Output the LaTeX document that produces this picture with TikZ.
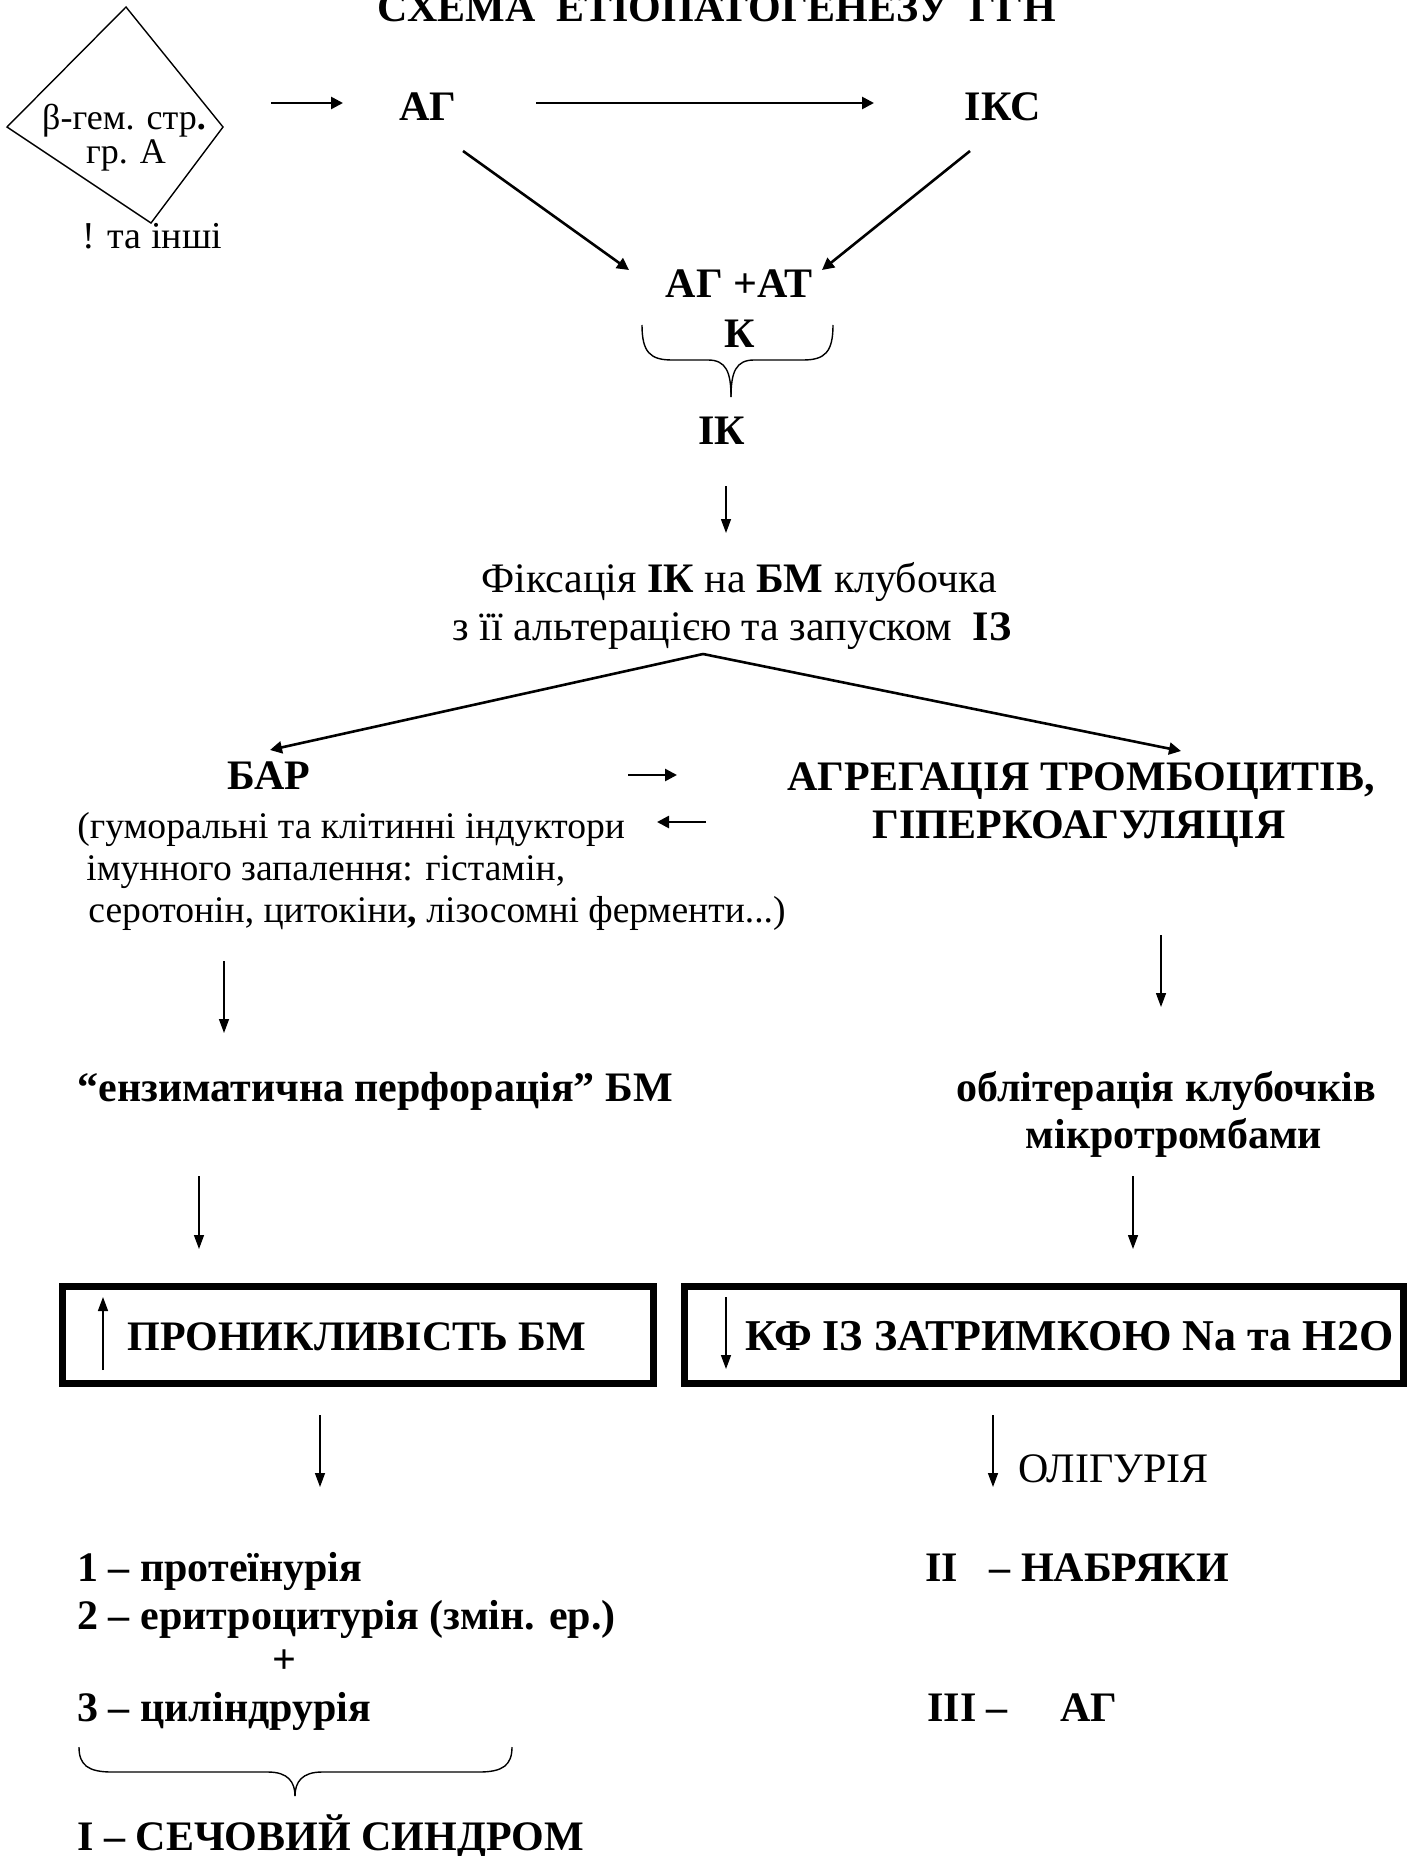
\documentclass[tikz,border=0pt]{standalone}
\usepackage{fontspec}
\setmainfont{Liberation Serif}
\usetikzlibrary{arrows.meta}
\tikzset{
  txt/.style={inner sep=0pt, font=\fontsize{21pt}{25pt}\selectfont},
  ptxt/.style={inner sep=0pt, font=\fontsize{18.8pt}{22pt}\selectfont},
  btxt/.style={inner sep=0pt, font=\fontsize{21pt}{25pt}\selectfont\bfseries},
  stxt/.style={inner sep=0pt, font=\fontsize{18pt}{22pt}\selectfont},
  thinarr/.style={line width=0.7pt, -{Triangle[length=7pt,width=5pt]}},
  thickarr/.style={line width=1.3pt, -{Triangle[length=6pt,width=6pt]}},
  boxst/.style={draw, line width=3.5pt, inner sep=0pt},
  bracest/.style={line width=0.7pt},
  shapest/.style={line width=0.7pt}
}
\begin{document}
\begin{tikzpicture}[x=0.5pt,y=-0.5pt]
\clip (0,0) rectangle (1409,1856);
\fill[white] (0,0) rectangle (1409,1856);

% title
\node[btxt, anchor=base] (title) at (717,22) {СХЕМА\ \ ЕТІОПАТОГЕНЕЗУ\ \ ГГН};

% diamond
\coordinate (dt) at (126,7);
\coordinate (dr) at (223,127);
\coordinate (db) at (151,223);
\coordinate (dl) at (7,127);
\draw[shapest] (dt) -- (dr) -- (db) -- (dl) -- cycle;
\node[stxt, anchor=base] (d1) at (124,130) {β-гем. стр\textbf{.}};
\node[stxt, anchor=base] (d2) at (126,164) {гр. А};
\node[stxt, font=\fontsize{19pt}{22pt}\selectfont, anchor=base west] (others) at (82,249) {! та інші};

% top row
\node[btxt, anchor=base] (ag) at (428,121) {АГ};
\node[btxt, anchor=base] (iks) at (1003,121) {ІКС};
\coordinate (a1s) at (271,103);
\coordinate (a1e) at (343,103);
\draw[thickarr] (a1s) -- (a1e);
\coordinate (a2s) at (536,103);
\coordinate (a2e) at (874,103);
\draw[thickarr] (a2s) -- (a2e);

\node[btxt, anchor=base] (agat) at (739,298) {АГ +АТ};
\node[btxt, anchor=base] (k) at (740,348) {К};
\coordinate (a3s) at (463,151);
\coordinate (a3e) at (629,270);
\draw[thickarr] (a3s) -- (a3e);
\coordinate (a4s) at (970,151);
\coordinate (a4e) at (822,270);
\draw[thickarr] (a4s) -- (a4e);

% brace
\coordinate (brl) at (642,325);
\coordinate (brr) at (833,325);
\coordinate (brt) at (731,397);
\draw[bracest] (brl) .. controls (642,352) and (650,360) .. (672,360)
  -- (708,360) .. controls (726,360) and (731,372) .. (brt);
\draw[bracest] (brr) .. controls (833,352) and (825,360) .. (803,360)
  -- (754,360) .. controls (736,360) and (731,372) .. (brt);

\node[btxt, anchor=base] (ik) at (722,444) {ІК};
\coordinate (a5s) at (726,486);
\coordinate (a5e) at (726,533);
\draw[thinarr] (a5s) -- (a5e);

\node[txt, anchor=base] (fix1) at (739,592) {Фіксація \textbf{ІК} на \textbf{БМ} клубочка};
\node[txt, anchor=base] (fix2) at (732,640) {з її альтерацією та запуском\ \ \textbf{ІЗ}};

% split
\coordinate (apex) at (703,654);
\coordinate (barTip) at (270,750);
\coordinate (agrTip) at (1181,751);
\draw[thickarr] (apex) -- (barTip);
\draw[thickarr] (apex) -- (agrTip);

\node[btxt, anchor=base] (bar) at (269,789) {БАР};
\node[btxt, anchor=base] (agr1) at (1081,790) {АГРЕГАЦІЯ ТРОМБОЦИТІВ,};
\node[btxt, anchor=base] (agr2) at (1079,838) {ГІПЕРКОАГУЛЯЦІЯ};
\coordinate (a6s) at (628,775);
\coordinate (a6e) at (677,775);
\draw[thickarr] (a6s) -- (a6e);
\coordinate (a7s) at (706,822);
\coordinate (a7e) at (657,822);
\draw[thickarr] (a7s) -- (a7e);

\node[ptxt, anchor=base west] (bar1) at (77,838) {(гуморальні та клітинні індуктори};
\node[ptxt, anchor=base west] (bar2) at (86,880) {імунного запалення: гістамін,};
\node[ptxt, anchor=base west] (bar3) at (88,922) {серотонін, цитокіни\textbf{,} лізосомні ферменти...)};

\coordinate (a8s) at (224,961);
\coordinate (a8e) at (224,1033);
\draw[thinarr] (a8s) -- (a8e);
\coordinate (a9s) at (1161,935);
\coordinate (a9e) at (1161,1007);
\draw[thinarr] (a9s) -- (a9e);

\node[btxt, anchor=base west] (enz) at (77,1101) {“ензиматична перфорація” БМ};
\node[btxt, anchor=base] (obl1) at (1166,1101) {облітерація клубочків};
\node[btxt, anchor=base] (obl2) at (1174,1148) {мікротромбами};

\coordinate (a10s) at (199,1176);
\coordinate (a10e) at (199,1249);
\draw[thinarr] (a10s) -- (a10e);
\coordinate (a11s) at (1133,1176);
\coordinate (a11e) at (1133,1249);
\draw[thinarr] (a11s) -- (a11e);

% boxes
\node[boxst, minimum width=295.5pt, minimum height=48.5pt] (box1) at (358,1335) {};
\node[boxst, minimum width=359.5pt, minimum height=48.5pt] (box2) at (1044,1335) {};
\coordinate (a12s) at (103,1370);
\coordinate (a12e) at (103,1297);
\draw[thinarr] (a12s) -- (a12e);
\node[btxt, anchor=base west] (pron) at (127,1350) {ПРОНИКЛИВІСТЬ БМ};
\coordinate (a13s) at (726,1297);
\coordinate (a13e) at (726,1369);
\draw[thinarr] (a13s) -- (a13e);
\node[btxt, font=\fontsize{22pt}{25pt}\selectfont\bfseries, anchor=base west] (kf) at (745,1350) {КФ ІЗ ЗАТРИМКОЮ Na та Н2О};

\coordinate (a14s) at (320,1415);
\coordinate (a14e) at (320,1487);
\draw[thinarr] (a14s) -- (a14e);
\coordinate (a15s) at (993,1415);
\coordinate (a15e) at (993,1487);
\draw[thinarr] (a15s) -- (a15e);
\node[txt, anchor=base west] (olig) at (1018,1482) {ОЛІГУРІЯ};

% bottom lists
\node[btxt, anchor=base west] (l1) at (77,1581) {1 – протеїнурія};
\node[btxt, anchor=base west] (l2) at (77,1629) {2 – еритроцитурія (змін. ер.)};
\node[btxt, anchor=base] (plus) at (284,1673) {+};
\node[btxt, anchor=base west] (l3) at (77,1721) {3 – циліндрурія};
\coordinate (b2l) at (79,1747);
\coordinate (b2r) at (512,1747);
\coordinate (b2t) at (295,1796);
\draw[bracest] (b2l) .. controls (79,1765) and (88,1772) .. (112,1772)
  -- (268,1772) .. controls (288,1772) and (295,1782) .. (b2t);
\draw[bracest] (b2r) .. controls (512,1765) and (503,1772) .. (479,1772)
  -- (322,1772) .. controls (302,1772) and (295,1782) .. (b2t);
\node[btxt, anchor=base west] (sech) at (77,1850) {І – СЕЧОВИЙ СИНДРОМ};

\node[btxt, anchor=base west] (nab) at (925,1581) {ІІ\ \ \ – НАБРЯКИ};
\node[btxt, anchor=base west] (ag3) at (927,1721) {ІІІ –\ \ \ \ \ АГ};
\end{tikzpicture}
\end{document}
